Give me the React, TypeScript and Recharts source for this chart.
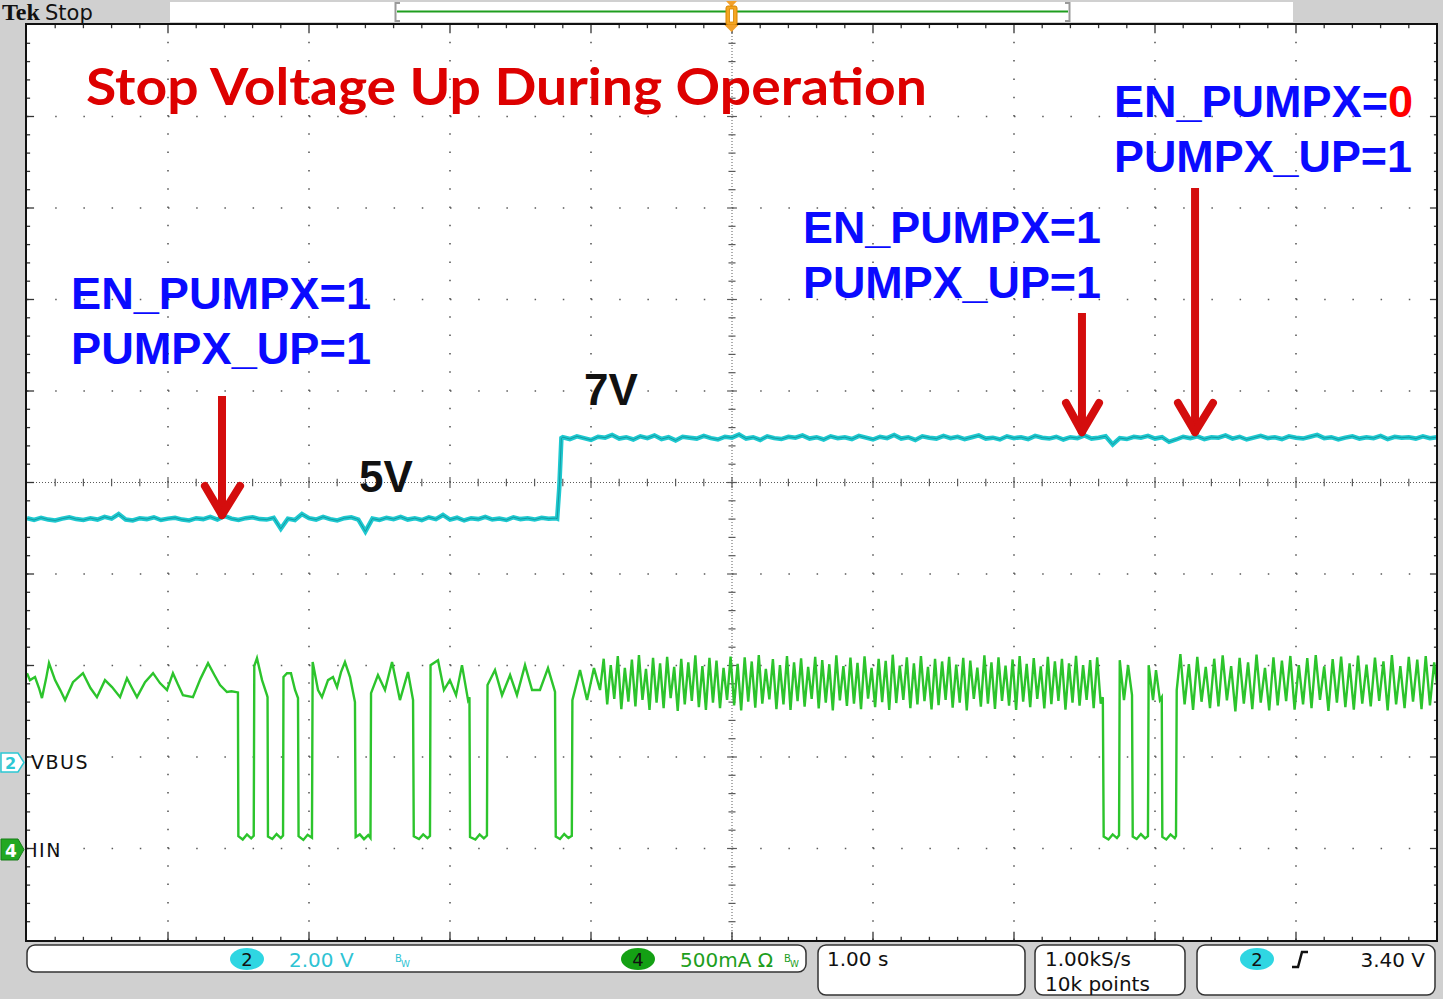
import React from "react";
import { LineChart, Line, XAxis, YAxis, ReferenceLine } from "recharts";

// ---------------- DATA ----------------
// Time axis: seconds (1.00 s/div, 10 div). VBUS in volts (2.00 V/div), IIN in mA (500 mA/div)
const timeDivisions = [0, 1, 2, 3, 4, 5, 6, 7, 8, 9, 10];
const vbusDomain: [number, number] = [-3.89, 16.11];
const iinDomain: [number, number] = [-497, 4503];

// VBUS samples, 0.05 s apart
const vbusStep = 0.05;
const vbusLowStart = 0;
const vbusLow = [
  5.33, 5.29, 5.34, 5.3, 5.28, 5.32, 5.35, 5.31, 5.29, 5.33,
  5.3, 5.36, 5.32, 5.42, 5.3, 5.28, 5.33, 5.31, 5.35, 5.29,
  5.32, 5.34, 5.3, 5.28, 5.33, 5.31, 5.36, 5.3, 5.38, 5.32,
  5.29, 5.33, 5.35, 5.31, 5.3, 5.34, 5.1, 5.32, 5.29, 5.42,
  5.33, 5.3, 5.36, 5.31, 5.28, 5.33, 5.35, 5.3, 5.04, 5.32,
  5.29, 5.34, 5.31, 5.36, 5.3, 5.33, 5.29, 5.35, 5.31, 5.4,
  5.3, 5.34, 5.28, 5.33, 5.31, 5.36, 5.3, 5.32, 5.29, 5.35,
  5.31, 5.33, 5.3, 5.34, 5.32, 5.33,
];
const vbusEdge: [number, number][] = [
  [3.76, 5.32],
  [3.775, 6.0],
  [3.79, 7.08],
];
const vbusHighStart = 3.8;
const vbusHigh = [
  7.1, 7.06, 7.12, 7.08, 7.04, 7.11, 7.09, 7.15, 7.07, 7.1,
  7.05, 7.12, 7.08, 7.14, 7.06, 7.1, 7.03, 7.11, 7.09, 7.07,
  7.13, 7.08, 7.05, 7.11, 7.09, 7.16, 7.07, 7.1, 7.04, 7.12,
  7.08, 7.06, 7.11, 7.09, 7.14, 7.07, 7.1, 7.05, 7.12, 7.08,
  7.1, 7.06, 7.13, 7.09, 7.05, 7.11, 7.08, 7.15, 7.07, 7.1,
  7.04, 7.12, 7.09, 7.07, 7.13, 7.08, 7.11, 7.06, 7.1, 7.14,
  7.07, 7.09, 7.05, 7.12, 7.08, 7.1, 7.06, 7.13, 7.09, 7.07,
  7.11, 7.05, 7.1, 7.08, 7.14, 7.07, 7.09, 7.12, 6.94, 7.08,
  7.06, 7.11, 7.09, 7.13, 7.07, 7.1, 7.0, 7.05, 7.11, 7.08,
  7.12, 7.06, 7.1, 7.09, 7.14, 7.07, 7.11, 7.05, 7.09, 7.13,
  7.08, 7.1, 7.06, 7.12, 7.09, 7.07, 7.11, 7.15, 7.08, 7.1,
  7.05, 7.09, 7.12, 7.07, 7.1, 7.08, 7.13, 7.06, 7.11, 7.09,
  7.1, 7.07, 7.12, 7.08, 7.1,
];

// IIN: [time s, mA]
const iinPairsA: [number, number][] = [
  [0, 961], [0.021, 923], [0.057, 940], [0.085, 880], [0.106, 825], [0.135, 930], [0.156, 1016],
  [0.199, 923], [0.235, 870], [0.27, 814], [0.326, 912], [0.36, 935], [0.397, 961], [0.45, 880],
  [0.496, 830], [0.553, 923], [0.603, 885], [0.66, 830], [0.709, 934], [0.745, 880], [0.78, 830],
  [0.837, 912], [0.894, 961], [0.943, 907], [0.993, 869], [1.035, 961], [1.07, 900], [1.106, 841],
  [1.177, 830], [1.23, 930], [1.284, 1016], [1.33, 950], [1.369, 896], [1.418, 858], [1.45, 862],
  [1.496, 856],
  [1.499, 70], [1.53, 52], [1.56, 80], [1.59, 58], [1.608, 72],
  [1.612, 1000], [1.631, 1043], [1.667, 923], [1.702, 841], [1.706, 830],
  [1.709, 68], [1.74, 55], [1.77, 82], [1.8, 60], [1.816, 74],
  [1.819, 940], [1.844, 961], [1.872, 961], [1.901, 869], [1.922, 825],
  [1.926, 70], [1.96, 50], [1.99, 78], [2.021, 62],
  [2.026, 1022], [2.064, 869], [2.092, 830], [2.135, 923], [2.17, 940], [2.199, 885],
  [2.227, 967], [2.255, 1022], [2.291, 940], [2.326, 803],
  [2.331, 66], [2.36, 80], [2.39, 54], [2.42, 76], [2.436, 60],
  [2.44, 852], [2.489, 951], [2.539, 869], [2.589, 1022], [2.645, 814], [2.702, 967], [2.738, 814],
  [2.743, 70], [2.78, 55], [2.81, 80], [2.84, 60], [2.858, 72],
  [2.862, 1005], [2.915, 1032], [2.957, 869], [2.999, 923], [3.043, 841], [3.085, 1005],
  [3.128, 814], [3.138, 830],
  [3.142, 66], [3.18, 52], [3.21, 80], [3.24, 58], [3.262, 74],
  [3.266, 896], [3.319, 978], [3.369, 841], [3.426, 951], [3.475, 841], [3.532, 1005],
  [3.582, 869], [3.638, 869], [3.695, 989], [3.745, 858],
  [3.75, 68], [3.78, 55], [3.81, 82], [3.84, 60], [3.864, 72],
  [3.868, 814], [3.922, 978], [3.972, 814], [4.021, 989], [4.064, 869],
];
const iinFastStart = 4.09;
const iinFastStep = 0.025;
const iinFast = [
  1040, 790, 1005, 820, 1055, 765, 990, 805, 1035, 780,
  1060, 815, 985, 760, 1045, 800, 1015, 770, 1050, 825,
  995, 755, 1040, 790, 1020, 810, 1058, 775, 1000, 760,
  1045, 800, 1030, 770, 990, 815, 1052, 785, 1012, 758,
  1048, 805, 1025, 772, 1060, 795, 985, 818, 1038, 765,
  1005, 790, 1055, 760, 1020, 808, 1042, 778, 995, 820,
  1050, 768, 1032, 800, 1010, 757, 1058, 812, 1000, 782,
  1046, 795, 1018, 765, 1053, 822, 990, 775, 1040, 803,
  1028, 760, 1062, 798, 1003, 815, 1047, 770, 1015, 790,
  1055, 808, 996, 763, 1040, 786, 1025, 815, 1050, 772,
  1008, 800, 1045, 758, 1030, 820, 992, 778, 1058, 795,
  1020, 766, 1048, 810, 1002, 784, 1036, 760, 1054, 805,
  1012, 775, 1044, 820, 998, 768, 1050, 792, 1026, 810,
  1040, 762, 1015, 800, 1056, 783, 1005, 815, 1033, 770,
  1047, 795,
];
const iinPairsB: [number, number][] = [
  [7.63, 830], [7.636, 68], [7.67, 52], [7.7, 80], [7.73, 60], [7.745, 75],
  [7.75, 1032], [7.78, 814], [7.809, 1005], [7.837, 841],
  [7.842, 68], [7.87, 55], [7.9, 82], [7.93, 58], [7.95, 70],
  [7.955, 1005], [7.986, 814], [8.007, 978], [8.035, 814], [8.048, 830],
  [8.052, 66], [8.08, 52], [8.11, 80], [8.14, 60], [8.149, 72],
  [8.154, 869], [8.165, 950],
];
const iinTailStart = 8.18;
const iinTailStep = 0.03;
const iinTail = [
  1065, 790, 1010, 760, 1050, 805, 995, 770, 1040, 780,
  1058, 812, 1000, 752, 1045, 795, 1020, 765, 1062, 800,
  990, 758, 1048, 785, 1030, 808, 1055, 762, 1005, 790,
  1044, 770, 1060, 815, 998, 755, 1038, 800, 1052, 775,
  1015, 762, 1057, 795, 1008, 780, 1046, 810, 1025, 758,
  1060, 790, 1000, 770, 1050, 805, 1035, 765, 1054, 785,
  1020,
];
const iinEnd: [number, number][] = [[10, 900]];

// Annotation arrows (time s, division units)
const arrows = [
  { t: 1.383, from: 5.945, to: 4.645, left: 1.262, right: 1.511, wing: 4.962 },
  { t: 7.482, from: 6.852, to: 5.552, left: 7.369, right: 7.603, wing: 5.869 },
  { t: 8.284, from: 8.219, to: 5.552, left: 8.163, right: 8.411, wing: 5.869 },
];

// ---------------- BUILD ----------------
const vbusData = [
  ...vbusLow.map((v, i) => ({ t: vbusLowStart + i * vbusStep, v })),
  ...vbusEdge.map(([t, v]) => ({ t, v })),
  ...vbusHigh.map((v, i) => ({ t: vbusHighStart + i * vbusStep, v })),
];
const iinData = [
  ...iinPairsA.map(([t, i]) => ({ t, i })),
  ...iinFast.map((i, k) => ({ t: iinFastStart + k * iinFastStep, i })),
  ...iinPairsB.map(([t, i]) => ({ t, i })),
  ...iinTail.map((i, k) => ({ t: iinTailStart + k * iinTailStep, i })),
  ...iinEnd.map(([t, i]) => ({ t, i })),
];

const minor = Array.from({ length: 49 }, (_, k) => (k + 1) * 0.2);

const W = 1443;
const H = 999;
const BG = "#d0d0d0";
const tekFont = "'DejaVu Sans', 'Noto Sans', sans-serif";
const armFont = "'Liberation Sans', Arial, sans-serif";

export default function App() {
  const gridColor = "#5a5a5a";
  const gridLines: React.ReactNode[] = [];
  timeDivisions.slice(1, -1).forEach((d) => {
    if (d === 5) return;
    gridLines.push(
      <ReferenceLine key={"gx" + d} xAxisId="t" yAxisId="div" x={d} stroke={gridColor} strokeWidth={1.6} strokeDasharray="1.5 16.8" />
    );
    gridLines.push(
      <ReferenceLine key={"gy" + d} xAxisId="t" yAxisId="div" y={d} stroke={gridColor} strokeWidth={1.6} strokeDasharray="1.5 26.7" />
    );
  });
  gridLines.push(
    <ReferenceLine key="cx" xAxisId="t" yAxisId="div" x={5} stroke={gridColor} strokeWidth={1} strokeDasharray="1 2" />
  );
  gridLines.push(
    <ReferenceLine key="cy" xAxisId="t" yAxisId="div" y={5} stroke={gridColor} strokeWidth={1} strokeDasharray="1 2" />
  );
  minor.forEach((m, k) => {
    const major = Math.abs(m - Math.round(m)) < 1e-6;
    const hx = major ? 0.06 : 0.04;
    const hy = major ? 0.035 : 0.025;
    gridLines.push(
      <ReferenceLine key={"tx" + k} xAxisId="t" yAxisId="div" stroke={gridColor} strokeWidth={1.2}
        segment={[{ x: m, y: 5 - hx }, { x: m, y: 5 + hx }]} />
    );
    gridLines.push(
      <ReferenceLine key={"ty" + k} xAxisId="t" yAxisId="div" stroke={gridColor} strokeWidth={1.2}
        segment={[{ x: 5 - hy, y: m }, { x: 5 + hy, y: m }]} />
    );
    gridLines.push(
      <ReferenceLine key={"bt" + k} xAxisId="t" yAxisId="div" stroke="#333" strokeWidth={1.3}
        segment={[{ x: m, y: 10 }, { x: m, y: major ? 9.91 : 9.965 }]} />
    );
    gridLines.push(
      <ReferenceLine key={"bb" + k} xAxisId="t" yAxisId="div" stroke="#333" strokeWidth={1.3}
        segment={[{ x: m, y: 0 }, { x: m, y: major ? 0.09 : 0.035 }]} />
    );
    gridLines.push(
      <ReferenceLine key={"bl" + k} xAxisId="t" yAxisId="div" stroke="#333" strokeWidth={1.3}
        segment={[{ x: 0, y: m }, { x: major ? 0.05 : 0.022, y: m }]} />
    );
    gridLines.push(
      <ReferenceLine key={"br" + k} xAxisId="t" yAxisId="div" stroke="#333" strokeWidth={1.3}
        segment={[{ x: 10, y: m }, { x: major ? 9.95 : 9.978, y: m }]} />
    );
  });

  const arrowRed = "#d40d0d";
  const arrowLines: React.ReactNode[] = [];
  arrows.forEach((a, k) => {
    arrowLines.push(
      <ReferenceLine key={"as" + k} xAxisId="t" yAxisId="div" stroke={arrowRed} strokeWidth={8}
        segment={[{ x: a.t, y: a.from }, { x: a.t, y: a.to + 0.05 }]} />
    );
    arrowLines.push(
      <ReferenceLine key={"al" + k} xAxisId="t" yAxisId="div" stroke={arrowRed} strokeWidth={8} strokeLinecap="round"
        segment={[{ x: a.left, y: a.wing }, { x: a.t, y: a.to }]} />
    );
    arrowLines.push(
      <ReferenceLine key={"ar" + k} xAxisId="t" yAxisId="div" stroke={arrowRed} strokeWidth={8} strokeLinecap="round"
        segment={[{ x: a.right, y: a.wing }, { x: a.t, y: a.to }]} />
    );
  });

  const blue = "#0a0aff";

  return (
    <div style={{ position: "absolute", left: 0, top: 0, width: W, height: H, background: BG, overflow: "hidden" }}>
      <div style={{ position: "absolute", left: 27, top: 25, width: 1410, height: 915, background: "#fff" }} />
      <div style={{ position: "absolute", left: 0, top: 0 }}>
        <LineChart width={W} height={H} margin={{ left: 27, right: 6, top: 25, bottom: 59 }}>
          <XAxis xAxisId="t" type="number" dataKey="t" domain={[0, 10]} ticks={timeDivisions} hide allowDataOverflow />
          <YAxis yAxisId="div" type="number" domain={[0, 10]} hide allowDataOverflow />
          <YAxis yAxisId="v" type="number" domain={vbusDomain} hide allowDataOverflow />
          <YAxis yAxisId="i" type="number" domain={iinDomain} hide allowDataOverflow />
          {gridLines}
          <Line data={vbusData} xAxisId="t" yAxisId="v" dataKey="v" type="linear" stroke="#1ec9d0" strokeWidth={4.5} dot={false} isAnimationActive={false} />
          <Line data={vbusData} xAxisId="t" yAxisId="v" dataKey="v" type="linear" stroke="#11858c" strokeWidth={1} strokeOpacity={0.7} dot={false} isAnimationActive={false} />
          <Line data={iinData} xAxisId="t" yAxisId="i" dataKey="i" type="linear" stroke="#2cc42c" strokeWidth={2.4} dot={false} isAnimationActive={false} />
          {arrowLines}
        </LineChart>
      </div>
      <svg width={W} height={H} style={{ position: "absolute", left: 0, top: 0, pointerEvents: "none" }}>
        <rect x={26} y={24} width={1411} height={917} fill="none" stroke="#111" strokeWidth={2} />
        <text x={2} y={20} fontFamily="'Liberation Serif', 'DejaVu Serif', serif" fontWeight={700} fontSize={24} fill="#111">Tek</text>
        <text x={45} y={20} fontFamily={tekFont} fontSize={21} fill="#111">Stop</text>
        <rect x={170} y={2} width={1123} height={20} fill="#fff" />
        <line x1={397} y1={11.5} x2={1068} y2={11.5} stroke="#1f9e1f" strokeWidth={2} />
        <path d="M400 3 H395.5 V21 H400" stroke="#9a9a9a" strokeWidth={2} fill="none" />
        <path d="M1065 3 H1069.5 V21 H1065" stroke="#9a9a9a" strokeWidth={2} fill="none" />
        <path d="M726 1 L737 1 L731.5 7 Z" fill="#f3a12b" />
        <rect x={726} y={6} width={11} height={19} rx={2} fill="#f5a623" stroke="#d88400" strokeWidth={1} />
        <rect x={729.5} y={9} width={4} height={13} fill="#fff" stroke="#d88400" strokeWidth={0.8} />
        <path d="M724.5 25 L738.5 25 L731.5 32 Z" fill="#f3a12b" />

        <path d="M1 753 L18 753 L24 762.5 L18 772 L1 772 Z" fill="#fff" stroke="#2cc8d4" strokeWidth={1.5} />
        <text x={5} y={769} fontFamily={tekFont} fontSize={16} fill="#2cc8d4" fontWeight={700}>2</text>
        <path d="M1 839 L18 839 L24 849.5 L18 860 L1 860 Z" fill="#22a822" stroke="#177d17" strokeWidth={1} />
        <text x={5} y={857} fontFamily={tekFont} fontSize={17} fill="#fff" fontWeight={700}>4</text>
        <text x={31} y={769} fontFamily={tekFont} fontSize={19} fill="#111" letterSpacing={1.5}>VBUS</text>
        <text x={32} y={857} fontFamily={tekFont} fontSize={19} fill="#111" letterSpacing={1.5}>IIN</text>

        <text x={86} y={105} fontFamily="Lato, 'Open Sans', sans-serif" fontWeight={700} fontSize={52} fill="#dd0000"
          textLength={841} lengthAdjust="spacingAndGlyphs">Stop Voltage Up During Operation</text>

        <text x={71} y={309} fontFamily={armFont} fontWeight={700} fontSize={45} fill={blue} textLength={300} lengthAdjust="spacingAndGlyphs">EN_PUMPX=1</text>
        <text x={71} y={364} fontFamily={armFont} fontWeight={700} fontSize={45} fill={blue} textLength={300} lengthAdjust="spacingAndGlyphs">PUMPX_UP=1</text>
        <text x={803} y={243} fontFamily={armFont} fontWeight={700} fontSize={45} fill={blue} textLength={298} lengthAdjust="spacingAndGlyphs">EN_PUMPX=1</text>
        <text x={803} y={298} fontFamily={armFont} fontWeight={700} fontSize={45} fill={blue} textLength={298} lengthAdjust="spacingAndGlyphs">PUMPX_UP=1</text>
        <text x={1114} y={117} fontFamily={armFont} fontWeight={700} fontSize={45} fill={blue} textLength={299} lengthAdjust="spacingAndGlyphs">
          EN_PUMPX=<tspan fill="#ff0000">0</tspan>
        </text>
        <text x={1114} y={172} fontFamily={armFont} fontWeight={700} fontSize={45} fill={blue} textLength={298} lengthAdjust="spacingAndGlyphs">PUMPX_UP=1</text>

        <text x={359} y={492} fontFamily={armFont} fontWeight={700} fontSize={44} fill="#111">5V</text>
        <text x={584} y={405} fontFamily={armFont} fontWeight={700} fontSize={44} fill="#111">7V</text>

        <rect x={27} y={945} width={779} height={27} rx={8} fill="#fff" stroke="#333" strokeWidth={1.5} />
        <ellipse cx={247} cy={959} rx={17} ry={11} fill="#2fd6e2" />
        <text x={247} y={966} textAnchor="middle" fontFamily={tekFont} fontSize={18} fill="#111">2</text>
        <text x={289} y={967} fontFamily={tekFont} fontSize={20} fill="#2fc3d3">2.00 V</text>
        <text x={395} y={962} fontFamily={tekFont} fontSize={10} fill="#2fc3d3">B</text>
        <text x={401} y={967} fontFamily={tekFont} fontSize={9} fill="#2fc3d3">W</text>
        <ellipse cx={638} cy={959} rx={17} ry={11} fill="#14a014" />
        <text x={638} y={966} textAnchor="middle" fontFamily={tekFont} fontSize={18} fill="#111">4</text>
        <text x={680} y={967} fontFamily={tekFont} fontSize={20} fill="#1d9e1d">500mA Ω</text>
        <text x={784} y={962} fontFamily={tekFont} fontSize={10} fill="#1d9e1d">B</text>
        <text x={790} y={967} fontFamily={tekFont} fontSize={9} fill="#1d9e1d">W</text>

        <rect x={818} y={945} width={207} height={50} rx={8} fill="#fff" stroke="#333" strokeWidth={1.5} />
        <text x={827} y={966} fontFamily={tekFont} fontSize={20} fill="#111">1.00 s</text>

        <rect x={1035} y={945} width={150} height={50} rx={8} fill="#fff" stroke="#333" strokeWidth={1.5} />
        <text x={1045} y={966} fontFamily={tekFont} fontSize={20} fill="#111">1.00kS/s</text>
        <text x={1045} y={991} fontFamily={tekFont} fontSize={20} fill="#111">10k points</text>

        <rect x={1197} y={945} width={238} height={50} rx={8} fill="#fff" stroke="#333" strokeWidth={1.5} />
        <ellipse cx={1257} cy={959} rx={17} ry={11} fill="#2fd6e2" />
        <text x={1257} y={966} textAnchor="middle" fontFamily={tekFont} fontSize={18} fill="#111">2</text>
        <path d="M1292 967 L1298 967 L1302 952 L1308 952" stroke="#111" strokeWidth={2.5} fill="none" />
        <text x={1425} y={967} textAnchor="end" fontFamily={tekFont} fontSize={20} fill="#111">3.40 V</text>
      </svg>
    </div>
  );
}
